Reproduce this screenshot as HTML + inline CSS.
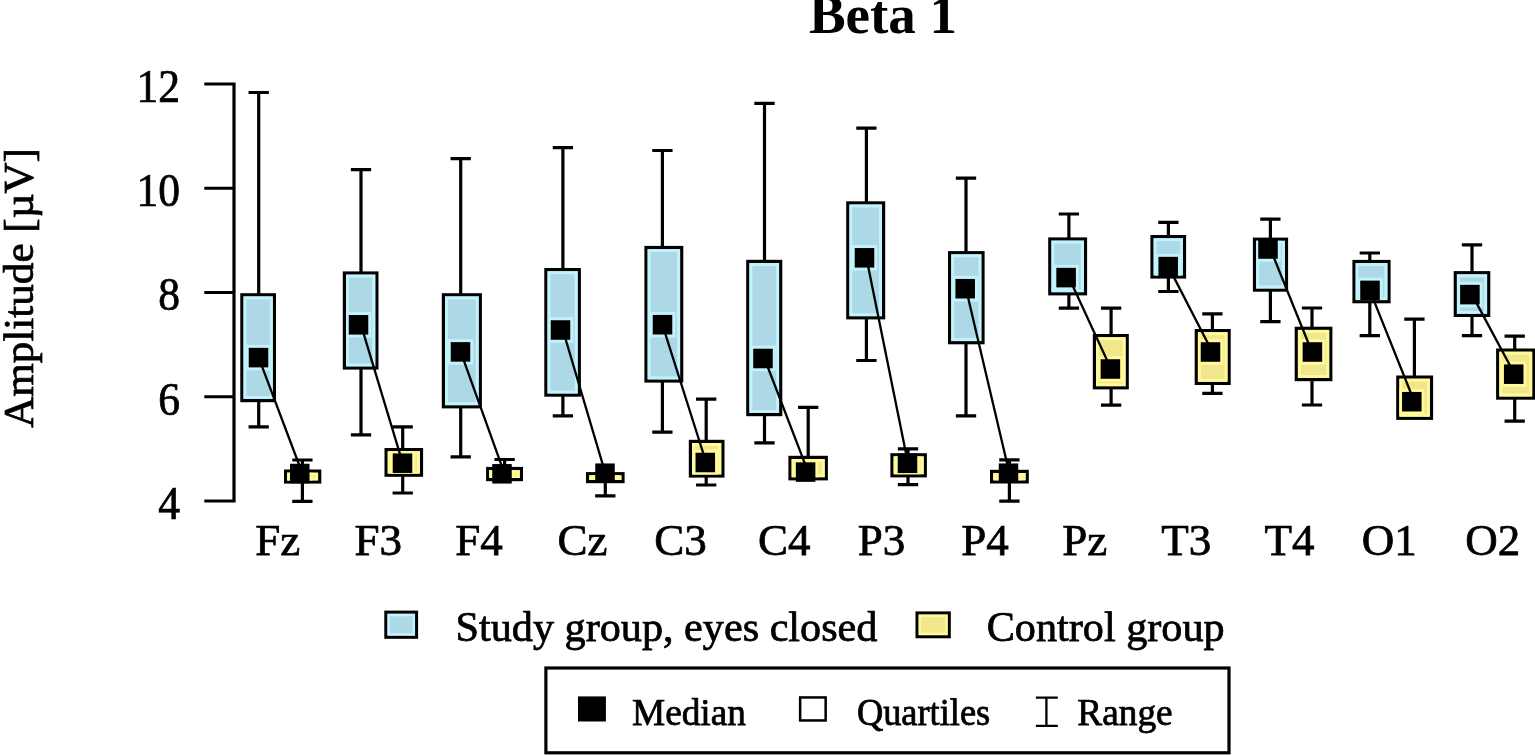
<!DOCTYPE html>
<html><head><meta charset="utf-8"><title>Beta 1</title>
<style>html,body{margin:0;padding:0;background:#fff;overflow:hidden}svg{display:block}</style>
</head><body>
<svg width="1535" height="755" viewBox="0 0 1535 755">
<rect width="1535" height="755" fill="#fff"/>
<text x="808.9" y="32.8" font-family="'Liberation Serif', serif" font-weight="bold" font-size="55">Beta 1</text>
<text transform="translate(33.2 427.8) rotate(-90)" font-family="'Liberation Serif', serif" stroke="#000" stroke-width="0.75" font-size="43.1">Amplitude [µV]</text>
<path d="M204.3 84H234V501H204.3M204.3 188.25H234M204.3 292.5H234M204.3 396.75H234" fill="none" stroke="#000" stroke-width="3.2"/>
<text transform="translate(180 101.8) scale(0.955 1)" text-anchor="end" font-family="'Liberation Serif', serif" stroke="#000" stroke-width="0.75" font-size="45.6">12</text>
<text transform="translate(180 206.05) scale(0.955 1)" text-anchor="end" font-family="'Liberation Serif', serif" stroke="#000" stroke-width="0.75" font-size="45.6">10</text>
<text transform="translate(180 310.3) scale(0.955 1)" text-anchor="end" font-family="'Liberation Serif', serif" stroke="#000" stroke-width="0.75" font-size="45.6">8</text>
<text transform="translate(180 414.55) scale(0.955 1)" text-anchor="end" font-family="'Liberation Serif', serif" stroke="#000" stroke-width="0.75" font-size="45.6">6</text>
<text transform="translate(180 518.8) scale(0.955 1)" text-anchor="end" font-family="'Liberation Serif', serif" stroke="#000" stroke-width="0.75" font-size="45.6">4</text>
<g stroke="#000" stroke-width="3.2"><rect x="241.9" y="294.8" width="32.5" height="105.8" fill="#ADD8E6"/><rect x="285.6" y="471.1" width="34.1" height="10.9" fill="#F0E68C"/><rect x="344.4" y="273" width="32.5" height="95" fill="#ADD8E6"/><rect x="386.1" y="449.6" width="35.4" height="25.6" fill="#F0E68C"/><rect x="443.4" y="294.8" width="36.9" height="112" fill="#ADD8E6"/><rect x="487.7" y="468.5" width="33.7" height="11.1" fill="#F0E68C"/><rect x="545.9" y="269.6" width="33.4" height="125.5" fill="#ADD8E6"/><rect x="587.6" y="473.7" width="35.4" height="7.9" fill="#F0E68C"/><rect x="646" y="247.5" width="35.7" height="133.5" fill="#ADD8E6"/><rect x="690.4" y="441.4" width="32.5" height="34.6" fill="#F0E68C"/><rect x="747.8" y="261.4" width="32.9" height="153.2" fill="#ADD8E6"/><rect x="790" y="457.4" width="36.3" height="21.4" fill="#F0E68C"/><rect x="847.8" y="202.9" width="35.8" height="114.9" fill="#ADD8E6"/><rect x="892" y="454.8" width="33.3" height="21" fill="#F0E68C"/><rect x="949.6" y="252.7" width="33.4" height="90" fill="#ADD8E6"/><rect x="991.6" y="471.4" width="35.6" height="10.5" fill="#F0E68C"/><rect x="1049.8" y="239" width="35.7" height="54.8" fill="#ADD8E6"/><rect x="1094.4" y="335.6" width="32.8" height="52.2" fill="#F0E68C"/><rect x="1152" y="236.6" width="32.5" height="40.4" fill="#ADD8E6"/><rect x="1196.3" y="330.6" width="32.8" height="52.8" fill="#F0E68C"/><rect x="1254.5" y="239.2" width="32" height="50.9" fill="#ADD8E6"/><rect x="1296.3" y="328.3" width="34.5" height="51.3" fill="#F0E68C"/><rect x="1354" y="261.5" width="35" height="40.2" fill="#ADD8E6"/><rect x="1397.8" y="377.1" width="33.7" height="41.2" fill="#F0E68C"/><rect x="1455.3" y="272.7" width="33.4" height="42.7" fill="#ADD8E6"/><rect x="1497.7" y="350.1" width="36.1" height="48" fill="#F0E68C"/></g>
<defs><clipPath id="c1"><rect x="243.5" y="296.4" width="29.3" height="102.6"/></clipPath><clipPath id="c2"><rect x="287.2" y="472.7" width="30.9" height="7.7"/></clipPath><clipPath id="c3"><rect x="346" y="274.6" width="29.3" height="91.8"/></clipPath><clipPath id="c4"><rect x="387.7" y="451.2" width="32.2" height="22.4"/></clipPath><clipPath id="c5"><rect x="445" y="296.4" width="33.7" height="108.8"/></clipPath><clipPath id="c6"><rect x="489.3" y="470.1" width="30.5" height="7.9"/></clipPath><clipPath id="c7"><rect x="547.5" y="271.2" width="30.2" height="122.3"/></clipPath><clipPath id="c8"><rect x="589.2" y="475.3" width="32.2" height="4.7"/></clipPath><clipPath id="c9"><rect x="647.6" y="249.1" width="32.5" height="130.3"/></clipPath><clipPath id="c10"><rect x="692" y="443" width="29.3" height="31.4"/></clipPath><clipPath id="c11"><rect x="749.4" y="263" width="29.7" height="150"/></clipPath><clipPath id="c12"><rect x="791.6" y="459" width="33.1" height="18.2"/></clipPath><clipPath id="c13"><rect x="849.4" y="204.5" width="32.6" height="111.7"/></clipPath><clipPath id="c14"><rect x="893.6" y="456.4" width="30.1" height="17.8"/></clipPath><clipPath id="c15"><rect x="951.2" y="254.3" width="30.2" height="86.8"/></clipPath><clipPath id="c16"><rect x="993.2" y="473" width="32.4" height="7.3"/></clipPath><clipPath id="c17"><rect x="1051.4" y="240.6" width="32.5" height="51.6"/></clipPath><clipPath id="c18"><rect x="1096" y="337.2" width="29.6" height="49"/></clipPath><clipPath id="c19"><rect x="1153.6" y="238.2" width="29.3" height="37.2"/></clipPath><clipPath id="c20"><rect x="1197.9" y="332.2" width="29.6" height="49.6"/></clipPath><clipPath id="c21"><rect x="1256.1" y="240.8" width="28.8" height="47.7"/></clipPath><clipPath id="c22"><rect x="1297.9" y="329.9" width="31.3" height="48.1"/></clipPath><clipPath id="c23"><rect x="1355.6" y="263.1" width="31.8" height="37"/></clipPath><clipPath id="c24"><rect x="1399.4" y="378.7" width="30.5" height="38"/></clipPath><clipPath id="c25"><rect x="1456.9" y="274.3" width="30.2" height="39.5"/></clipPath><clipPath id="c26"><rect x="1499.3" y="351.7" width="32.9" height="44.8"/></clipPath></defs>
<g fill="none" stroke-width="3"><rect x="245" y="297.9" width="26.3" height="99.6" stroke="#C2F3FC"/><rect x="288.7" y="474.2" width="27.9" height="4.7" stroke="#FFF99A"/><rect x="347.5" y="276.1" width="26.3" height="88.8" stroke="#C2F3FC"/><rect x="389.2" y="452.7" width="29.2" height="19.4" stroke="#FFF99A"/><rect x="446.5" y="297.9" width="30.7" height="105.8" stroke="#C2F3FC"/><rect x="490.8" y="471.6" width="27.5" height="4.9" stroke="#FFF99A"/><rect x="549" y="272.7" width="27.2" height="119.3" stroke="#C2F3FC"/><rect x="590.7" y="476.8" width="29.2" height="1.7" stroke="#FFF99A"/><rect x="649.1" y="250.6" width="29.5" height="127.3" stroke="#C2F3FC"/><rect x="693.5" y="444.5" width="26.3" height="28.4" stroke="#FFF99A"/><rect x="750.9" y="264.5" width="26.7" height="147" stroke="#C2F3FC"/><rect x="793.1" y="460.5" width="30.1" height="15.2" stroke="#FFF99A"/><rect x="850.9" y="206" width="29.6" height="108.7" stroke="#C2F3FC"/><rect x="895.1" y="457.9" width="27.1" height="14.8" stroke="#FFF99A"/><rect x="952.7" y="255.8" width="27.2" height="83.8" stroke="#C2F3FC"/><rect x="994.7" y="474.5" width="29.4" height="4.3" stroke="#FFF99A"/><rect x="1052.9" y="242.1" width="29.5" height="48.6" stroke="#C2F3FC"/><rect x="1097.5" y="338.7" width="26.6" height="46" stroke="#FFF99A"/><rect x="1155.1" y="239.7" width="26.3" height="34.2" stroke="#C2F3FC"/><rect x="1199.4" y="333.7" width="26.6" height="46.6" stroke="#FFF99A"/><rect x="1257.6" y="242.3" width="25.8" height="44.7" stroke="#C2F3FC"/><rect x="1299.4" y="331.4" width="28.3" height="45.1" stroke="#FFF99A"/><rect x="1357.1" y="264.6" width="28.8" height="34" stroke="#C2F3FC"/><rect x="1400.9" y="380.2" width="27.5" height="35" stroke="#FFF99A"/><rect x="1458.4" y="275.8" width="27.2" height="36.5" stroke="#C2F3FC"/><rect x="1500.8" y="353.2" width="29.9" height="41.8" stroke="#FFF99A"/><rect clip-path="url(#c1)" x="247.25" y="346.35" width="22.5" height="22.5" stroke="#C2F3FC"/><rect clip-path="url(#c2)" x="288.5" y="462.25" width="22.5" height="22.5" stroke="#FFF99A"/><rect clip-path="url(#c3)" x="347.25" y="313.55" width="22.5" height="22.5" stroke="#C2F3FC"/><rect clip-path="url(#c4)" x="391.25" y="451.95" width="22.5" height="22.5" stroke="#FFF99A"/><rect clip-path="url(#c5)" x="449.25" y="340.65" width="22.5" height="22.5" stroke="#C2F3FC"/><rect clip-path="url(#c6)" x="490.75" y="462.55" width="22.5" height="22.5" stroke="#FFF99A"/><rect clip-path="url(#c7)" x="549.25" y="318.75" width="22.5" height="22.5" stroke="#C2F3FC"/><rect clip-path="url(#c8)" x="593.75" y="461.95" width="22.5" height="22.5" stroke="#FFF99A"/><rect clip-path="url(#c9)" x="651.25" y="313.45" width="22.5" height="22.5" stroke="#C2F3FC"/><rect clip-path="url(#c10)" x="694.05" y="451.25" width="22.5" height="22.5" stroke="#FFF99A"/><rect clip-path="url(#c11)" x="751.75" y="347.25" width="22.5" height="22.5" stroke="#C2F3FC"/><rect clip-path="url(#c12)" x="794.35" y="460.85" width="22.5" height="22.5" stroke="#FFF99A"/><rect clip-path="url(#c13)" x="853.25" y="246.55" width="22.5" height="22.5" stroke="#C2F3FC"/><rect clip-path="url(#c14)" x="896.25" y="452.05" width="22.5" height="22.5" stroke="#FFF99A"/><rect clip-path="url(#c15)" x="953.95" y="277.45" width="22.5" height="22.5" stroke="#C2F3FC"/><rect clip-path="url(#c16)" x="997.25" y="461.95" width="22.5" height="22.5" stroke="#FFF99A"/><rect clip-path="url(#c17)" x="1054.85" y="266.35" width="22.5" height="22.5" stroke="#C2F3FC"/><rect clip-path="url(#c18)" x="1099.15" y="357.75" width="22.5" height="22.5" stroke="#FFF99A"/><rect clip-path="url(#c19)" x="1156.95" y="255.35" width="22.5" height="22.5" stroke="#C2F3FC"/><rect clip-path="url(#c20)" x="1199.25" y="340.75" width="22.5" height="22.5" stroke="#FFF99A"/><rect clip-path="url(#c21)" x="1256.75" y="237.75" width="22.5" height="22.5" stroke="#C2F3FC"/><rect clip-path="url(#c22)" x="1301.15" y="340.75" width="22.5" height="22.5" stroke="#FFF99A"/><rect clip-path="url(#c23)" x="1358.75" y="279.15" width="22.5" height="22.5" stroke="#C2F3FC"/><rect clip-path="url(#c24)" x="1400.55" y="390.45" width="22.5" height="22.5" stroke="#FFF99A"/><rect clip-path="url(#c25)" x="1458.65" y="283.35" width="22.5" height="22.5" stroke="#C2F3FC"/><rect clip-path="url(#c26)" x="1502.45" y="362.95" width="22.5" height="22.5" stroke="#FFF99A"/></g>
<path d="M258.7 294.8V92.5M248.55 92.5H268.85M258.7 400.6V426.8M248.55 426.8H268.85M302.4 471.1V460M292.25 460H312.55M302.4 482V501.3M292.25 501.3H312.55M361 273V169.7M350.85 169.7H371.15M361 368V434.8M350.85 434.8H371.15M402.7 449.6V426.9M392.55 426.9H412.85M402.7 475.2V493M392.55 493H412.85M460.7 294.8V158.6M450.55 158.6H470.85M460.7 406.8V456.9M450.55 456.9H470.85M504.6 468.5V459.5M494.45 459.5H514.75M562.9 269.6V147.6M552.75 147.6H573.05M562.9 395.1V415.8M552.75 415.8H573.05M605.3 481.6V495.9M595.15 495.9H615.45M662.4 247.5V150.5M652.25 150.5H672.55M662.4 381V432.2M652.25 432.2H672.55M706.2 441.4V399.2M696.05 399.2H716.35M706.2 476V485M696.05 485H716.35M764.5 261.4V103.3M754.35 103.3H774.65M764.5 414.6V442.9M754.35 442.9H774.65M808.2 457.4V407.4M798.05 407.4H818.35M866.4 202.9V128.1M856.25 128.1H876.55M866.4 317.8V360.5M856.25 360.5H876.55M908 454.8V448.8M897.85 448.8H918.15M908 475.8V484.6M897.85 484.6H918.15M966 252.7V178.2M955.85 178.2H976.15M966 342.7V415.8M955.85 415.8H976.15M1009.4 471.4V459.8M999.25 459.8H1019.55M1009.4 481.9V501.2M999.25 501.2H1019.55M1068.9 239V214M1058.75 214H1079.05M1068.9 293.8V308.1M1058.75 308.1H1079.05M1111.1 335.6V308.1M1100.95 308.1H1121.25M1111.1 387.8V405.1M1100.95 405.1H1121.25M1168.4 236.6V222.3M1158.25 222.3H1178.55M1168.4 277V291.5M1158.25 291.5H1178.55M1212.4 330.6V313.8M1202.25 313.8H1222.55M1212.4 383.4V393.3M1202.25 393.3H1222.55M1270.4 239.2V219.1M1260.25 219.1H1280.55M1270.4 290.1V321.7M1260.25 321.7H1280.55M1312 328.3V308M1301.85 308H1322.15M1312 379.6V405M1301.85 405H1322.15M1369.8 261.5V253M1359.65 253H1379.95M1369.8 301.7V335.7M1359.65 335.7H1379.95M1414.4 377.1V319.2M1404.25 319.2H1424.55M1472 272.7V244.8M1461.85 244.8H1482.15M1472 315.4V335.7M1461.85 335.7H1482.15M1514.7 350.1V336.1M1504.55 336.1H1524.85M1514.7 398.1V421.2M1504.55 421.2H1524.85" fill="none" stroke="#000" stroke-width="3.2"/>
<path d="M258.7 357.6L302.4 473.5M361 324.8L402.7 463.2M460.7 351.9L504.6 473.8M562.9 330L605.3 473.2M662.4 324.7L706.2 462.5M764.5 358.5L808.2 472.1M866.4 257.8L908 463.3M966 288.7L1009.4 473.2M1068.9 277.6L1111.1 369M1168.4 266.6L1212.4 352M1270.4 249L1312 352M1369.8 290.4L1414.4 401.7M1472 294.6L1514.7 374.2" fill="none" stroke="#000" stroke-width="2.3"/>
<g fill="#000"><rect x="248.75" y="347.85" width="19.5" height="19.5"/><rect x="290" y="463.75" width="19.5" height="19.5"/><rect x="348.75" y="315.05" width="19.5" height="19.5"/><rect x="392.75" y="453.45" width="19.5" height="19.5"/><rect x="450.75" y="342.15" width="19.5" height="19.5"/><rect x="492.25" y="464.05" width="19.5" height="19.5"/><rect x="550.75" y="320.25" width="19.5" height="19.5"/><rect x="595.25" y="463.45" width="19.5" height="19.5"/><rect x="652.75" y="314.95" width="19.5" height="19.5"/><rect x="695.55" y="452.75" width="19.5" height="19.5"/><rect x="753.25" y="348.75" width="19.5" height="19.5"/><rect x="795.85" y="462.35" width="19.5" height="19.5"/><rect x="854.75" y="248.05" width="19.5" height="19.5"/><rect x="897.75" y="453.55" width="19.5" height="19.5"/><rect x="955.45" y="278.95" width="19.5" height="19.5"/><rect x="998.75" y="463.45" width="19.5" height="19.5"/><rect x="1056.35" y="267.85" width="19.5" height="19.5"/><rect x="1100.65" y="359.25" width="19.5" height="19.5"/><rect x="1158.45" y="256.85" width="19.5" height="19.5"/><rect x="1200.75" y="342.25" width="19.5" height="19.5"/><rect x="1258.25" y="239.25" width="19.5" height="19.5"/><rect x="1302.65" y="342.25" width="19.5" height="19.5"/><rect x="1360.25" y="280.65" width="19.5" height="19.5"/><rect x="1402.05" y="391.95" width="19.5" height="19.5"/><rect x="1460.15" y="284.85" width="19.5" height="19.5"/><rect x="1503.95" y="364.45" width="19.5" height="19.5"/></g>
<text x="277.75" y="555.2" text-anchor="middle" font-family="'Liberation Serif', serif" stroke="#000" stroke-width="0.75" font-size="45">Fz</text>
<text x="378.2" y="555.2" text-anchor="middle" font-family="'Liberation Serif', serif" stroke="#000" stroke-width="0.75" font-size="45">F3</text>
<text x="478.9" y="555.2" text-anchor="middle" font-family="'Liberation Serif', serif" stroke="#000" stroke-width="0.75" font-size="45">F4</text>
<text x="582.4" y="555.2" text-anchor="middle" font-family="'Liberation Serif', serif" stroke="#000" stroke-width="0.75" font-size="45">Cz</text>
<text x="680.4" y="555.2" text-anchor="middle" font-family="'Liberation Serif', serif" stroke="#000" stroke-width="0.75" font-size="45">C3</text>
<text x="784.2" y="555.2" text-anchor="middle" font-family="'Liberation Serif', serif" stroke="#000" stroke-width="0.75" font-size="45">C4</text>
<text x="881.6" y="555.2" text-anchor="middle" font-family="'Liberation Serif', serif" stroke="#000" stroke-width="0.75" font-size="45">P3</text>
<text x="985" y="555.2" text-anchor="middle" font-family="'Liberation Serif', serif" stroke="#000" stroke-width="0.75" font-size="45">P4</text>
<text x="1084.8" y="555.2" text-anchor="middle" font-family="'Liberation Serif', serif" stroke="#000" stroke-width="0.75" font-size="45">Pz</text>
<text x="1186.2" y="555.2" text-anchor="middle" font-family="'Liberation Serif', serif" stroke="#000" stroke-width="0.75" font-size="45">T3</text>
<text x="1289.6" y="555.2" text-anchor="middle" font-family="'Liberation Serif', serif" stroke="#000" stroke-width="0.75" font-size="45">T4</text>
<text x="1389.3" y="555.2" text-anchor="middle" font-family="'Liberation Serif', serif" stroke="#000" stroke-width="0.75" font-size="45">O1</text>
<text x="1492.75" y="555.2" text-anchor="middle" font-family="'Liberation Serif', serif" stroke="#000" stroke-width="0.75" font-size="45">O2</text>
<rect x="385.8" y="612.1" width="30.8" height="25.2" fill="#ADD8E6" stroke="#000" stroke-width="3"/>
<rect x="388.8" y="615.1" width="24.8" height="19.2" fill="none" stroke="#C2F3FC" stroke-width="2.4"/>
<text x="455.6" y="641.2" font-family="'Liberation Serif', serif" stroke="#000" stroke-width="0.75" font-size="42.2">Study group, eyes closed</text>
<rect x="917" y="612.9" width="32.3" height="23.9" fill="#F0E68C" stroke="#000" stroke-width="3"/>
<rect x="920" y="615.9" width="26.3" height="17.9" fill="none" stroke="#FFF99A" stroke-width="2.4"/>
<text x="986.7" y="641.2" font-family="'Liberation Serif', serif" stroke="#000" stroke-width="0.75" font-size="42.2">Control group</text>
<rect x="545.9" y="668" width="683.1" height="84.8" fill="#fff" stroke="#000" stroke-width="3.2"/>
<rect x="578" y="696.4" width="27.9" height="25.1" fill="#000"/>
<text x="632" y="724.5" font-family="'Liberation Serif', serif" stroke="#000" stroke-width="0.75" font-size="37.3">Median</text>
<rect x="800.15" y="697.45" width="25.5" height="23" fill="#fff" stroke="#000" stroke-width="2.5"/>
<text transform="translate(856.9 724.6) scale(0.975 1)" font-family="'Liberation Serif', serif" stroke="#000" stroke-width="0.75" font-size="37.3">Quartiles</text>
<path d="M1035.9 697.6H1057.8M1046.4 697.6V725.8M1035.9 725.8H1057.8" fill="none" stroke="#000" stroke-width="2.3"/>
<text x="1077.3" y="724.6" font-family="'Liberation Serif', serif" stroke="#000" stroke-width="0.75" font-size="37.3">Range</text>
</svg>
</body></html>
